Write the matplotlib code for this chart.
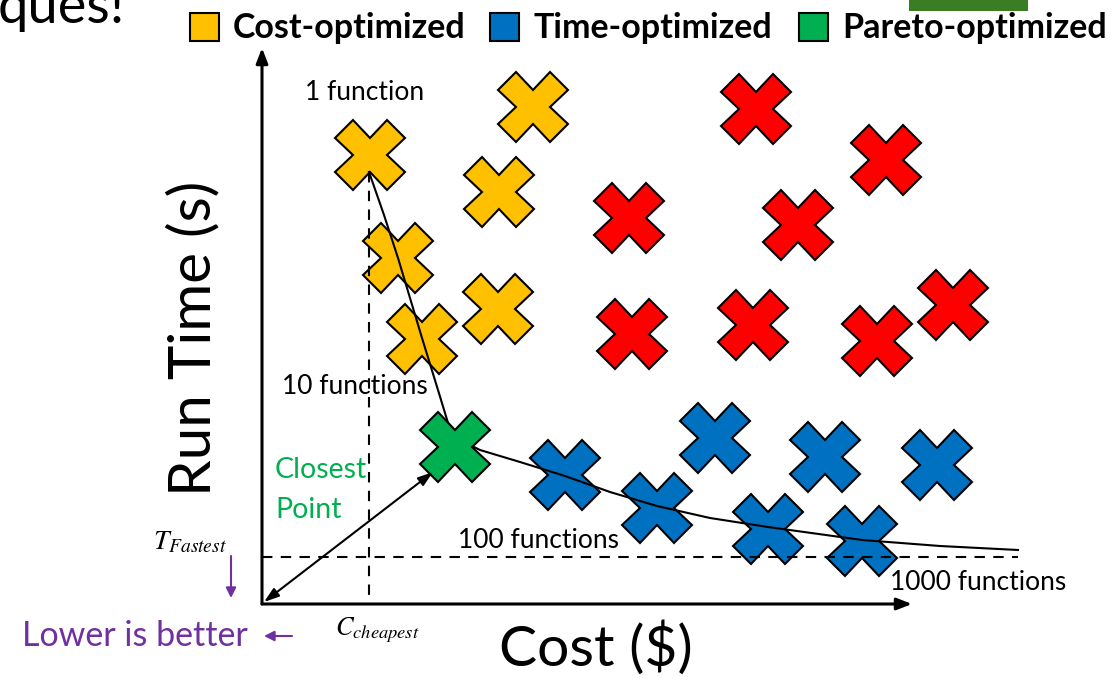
import matplotlib.pyplot as plt
from matplotlib.patches import Rectangle

plt.rcParams["mathtext.fontset"] = "stix"

# canvas is laid out in pixel units of the original slide (x right, y down)
W, H = 1114, 678
ORIGIN = (262, 604)
X_END, Y_END = 912, 48

# cross markers (centres, pixels)
cost_x = [370, 533, 499, 398, 498, 422]
cost_y = [155, 107, 192, 258, 309, 339]
other_x = [756, 886, 629, 798, 632, 753, 877, 953]
other_y = [109, 160, 218, 225, 334, 325, 341, 305]
time_x = [715, 825, 937, 565, 657, 768, 862]
time_y = [438, 457, 465, 475, 508, 529, 541]
pareto_x = [455]
pareto_y = [447]

# pareto front curve
front_x = [369, 384, 398, 410, 422, 438, 452, 480, 520, 565, 610, 657, 710, 768, 862, 940, 1018]
front_y = [172, 215, 258, 298, 338, 390, 436, 450, 462, 476, 492, 506, 518, 527, 540, 546, 550]

C_CHEAPEST_X = 369
T_FASTEST_Y = 557

YELLOW = "#ffc000"
RED = "#ff0000"
BLUE = "#0070c0"
GREEN = "#00b050"
PURPLE = "#7030a0"
FONT = "Lato"

fig = plt.figure(figsize=(W / 100, H / 100), dpi=100)
ax = fig.add_axes([0, 0, 1, 1])
ax.set_xlim(0, W)
ax.set_ylim(H, 0)
ax.axis("off")

# axes arrows
arrow = dict(arrowstyle="-|>,head_length=0.9,head_width=0.35", color="black", lw=2.2,
             shrinkA=0, shrinkB=0)
ax.annotate("", xy=(X_END, ORIGIN[1]), xytext=ORIGIN, arrowprops=arrow)
ax.annotate("", xy=(ORIGIN[0], Y_END), xytext=ORIGIN, arrowprops=arrow)

# reference dashed lines
ax.plot([C_CHEAPEST_X, C_CHEAPEST_X], [front_y[0], ORIGIN[1]], color="black", lw=1.5,
        ls=(0, (5, 4)), zorder=3)
ax.plot([ORIGIN[0], front_x[-1]], [T_FASTEST_Y, T_FASTEST_Y], color="black", lw=1.5,
        ls=(0, (5, 4)), zorder=3)

# front
ax.plot(front_x, front_y, color="black", lw=1.5, zorder=3)

mk = dict(marker="X", markersize=50, linestyle="none", markeredgecolor="black",
          markeredgewidth=1.5)
ax.plot(cost_x, cost_y, color=YELLOW, zorder=2, **mk)
ax.plot(other_x, other_y, color=RED, zorder=2, **mk)
ax.plot(time_x, time_y, color=BLUE, zorder=2, **mk)
ax.plot(pareto_x, pareto_y, color=GREEN, zorder=4, **mk)

# distance arrow from origin to closest point
ax.annotate("", xy=(ORIGIN[0] + 2, ORIGIN[1] - 2), xytext=(433, 472),
            arrowprops=dict(arrowstyle="<|-|>,head_length=0.9,head_width=0.3",
                            color="black", lw=1.5, shrinkA=0, shrinkB=0), zorder=5)

# labels along the front
ax.text(365, 92, "1 function", fontsize=19, family=FONT, ha="center", va="center")
ax.text(355, 386, "10 functions", fontsize=19, family=FONT, ha="center", va="center")
ax.text(538, 540, "100 functions", fontsize=19, family=FONT, ha="center", va="center")
ax.text(978, 582, "1000 functions", fontsize=19, family=FONT, ha="center", va="center")
ax.text(275, 490, "Closest\nPoint", fontsize=20.5, family=FONT, color=GREEN,
        ha="left", va="center", linespacing=1.7)

# axis titles
ax.text(596, 648, "Cost ($)", fontsize=41, family=FONT, ha="center", va="center")
ax.text(194, 338, "Run Time (s)", fontsize=42, family=FONT, ha="center", va="center",
        rotation=90)
ax.text(190, 541, r"$T_{Fastest}$", fontsize=20, ha="center", va="center")
ax.text(377, 630, r"$C_{cheapest}$", fontsize=19, ha="center", va="center")

# "lower is better"
ax.text(135, 636, "Lower is better", fontsize=24.5, family=FONT, color=PURPLE,
        ha="center", va="center")
purple = dict(arrowstyle="-|>,head_length=0.6,head_width=0.3", color=PURPLE, lw=1.5,
              shrinkA=0, shrinkB=0)
ax.annotate("", xy=(264, 636), xytext=(292, 636), arrowprops=purple)
ax.annotate("", xy=(231, 598), xytext=(231, 556), arrowprops=purple)

# legend row
legend_items = [("Cost-optimized", YELLOW, 190), ("Time-optimized", BLUE, 490),
                ("Pareto-optimized", GREEN, 799)]
for label, col, x0 in legend_items:
    ax.add_patch(Rectangle((x0, 13), 29, 28, facecolor=col, edgecolor="black", lw=1.5))
    ax.text(x0 + 43, 28, label, fontsize=24.5, family=FONT, weight="bold",
            ha="left", va="center")

# slide leftovers (title text cut by the top edge, picture corner)
ax.text(-2, 23, "ques!", fontsize=39, family=FONT, ha="left", va="baseline")
ax.add_patch(Rectangle((909, 0), 119, 11, facecolor="#3a7d22", edgecolor="none"))

fig.savefig("out.png", dpi=100)
